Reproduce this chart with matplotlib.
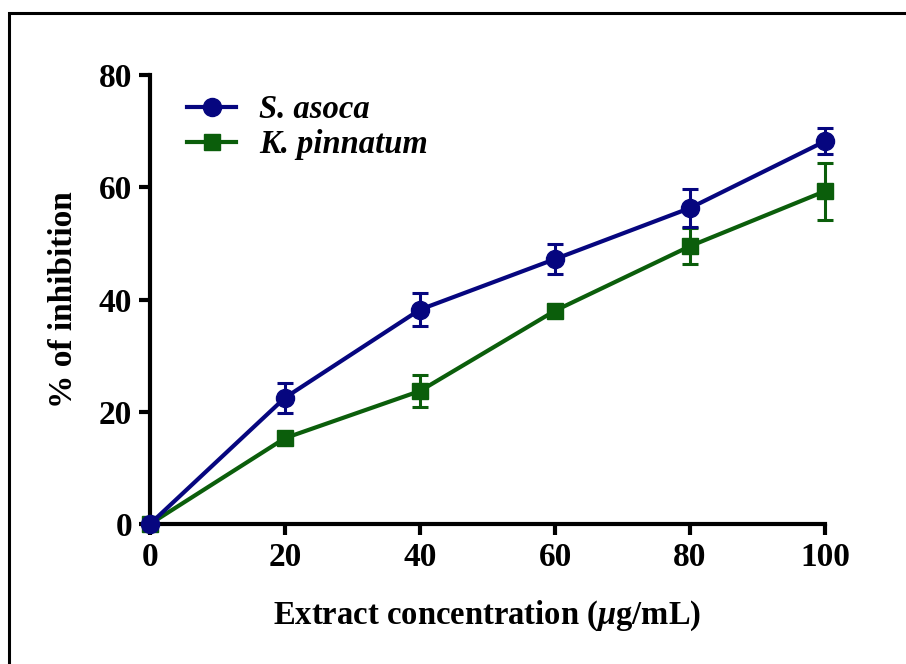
import matplotlib
matplotlib.use("Agg")
import matplotlib.pyplot as plt
from matplotlib.patches import Rectangle
from matplotlib.lines import Line2D

plt.rcParams['font.family'] = ['Liberation Serif', 'DejaVu Serif']
plt.rcParams['font.weight'] = 'bold'
plt.rcParams['mathtext.fontset'] = 'custom'
plt.rcParams['mathtext.it'] = 'Liberation Serif:italic'
plt.rcParams['mathtext.rm'] = 'Liberation Serif:bold'

concentration = [0, 20, 40, 60, 80, 100]
x_ticks = [0, 20, 40, 60, 80, 100]
y_ticks = [0, 20, 40, 60, 80]

asoca_mean = [0.0, 22.5, 38.2, 47.2, 56.3, 68.2]
asoca_err = [0.0, 2.7, 3.0, 2.7, 3.4, 2.3]

pinnatum_mean = [0.0, 15.3, 23.7, 38.0, 49.5, 59.3]
pinnatum_err = [0.0, 1.0, 2.8, 1.0, 3.2, 5.1]

series_labels = ['S. asoca', 'K. pinnatum']

W, H = 906, 664
fig = plt.figure(figsize=(W / 100, H / 100), dpi=100)

# outer frame (right and bottom edges run past the canvas)
fig.patches.append(Rectangle((9 / W, -0.05), 1.2, 1 - 13 / H + 0.05,
                             transform=fig.transFigure, fill=False,
                             edgecolor='black', linewidth=2.2))

ax = fig.add_axes([150 / W, 1 - 524 / H, 675 / W, 449 / H])

navy = '#06067f'
green = '#0b5e0b'
lw = 3.0

ax.errorbar(concentration, asoca_mean, yerr=asoca_err, color=navy,
            marker='o', markersize=13, linewidth=lw, capsize=6,
            capthick=2.2, elinewidth=2.2, clip_on=False, zorder=4)
ax.errorbar(concentration, pinnatum_mean, yerr=pinnatum_err, color=green,
            marker='s', markersize=12, linewidth=lw, capsize=6,
            capthick=2.2, elinewidth=2.2, clip_on=False, zorder=3)

ax.set_xlim(0, 100)
ax.set_ylim(0, 80)
ax.set_xticks(x_ticks)
ax.set_yticks(y_ticks)
for s in ['top', 'right']:
    ax.spines[s].set_visible(False)
for s in ['left', 'bottom']:
    ax.spines[s].set_linewidth(3.0)
ax.tick_params(width=3.0, length=8, labelsize=24, pad=5)
for lab in ax.get_xticklabels() + ax.get_yticklabels():
    lab.set_fontweight('bold')

ax.set_xlabel(r'Extract concentration ($\mathit{\mu}$g/mL)', fontsize=23.5,
              fontweight='bold', labelpad=18)
ax.set_ylabel('% of inhibition', fontsize=24, fontweight='bold', labelpad=14)

handles = [
    Line2D([], [], color=navy, marker='o', markersize=13, linewidth=lw),
    Line2D([], [], color=green, marker='s', markersize=12, linewidth=lw),
]
ax.legend(handles, series_labels, loc='upper left',
          bbox_to_anchor=(0.012, 1.022), frameon=False,
          prop={'family': 'Liberation Serif', 'style': 'italic',
                'weight': 'bold', 'size': 23.5},
          handlelength=1.5, handletextpad=0.7, labelspacing=0.12)

fig.savefig('out.png', dpi=100)
